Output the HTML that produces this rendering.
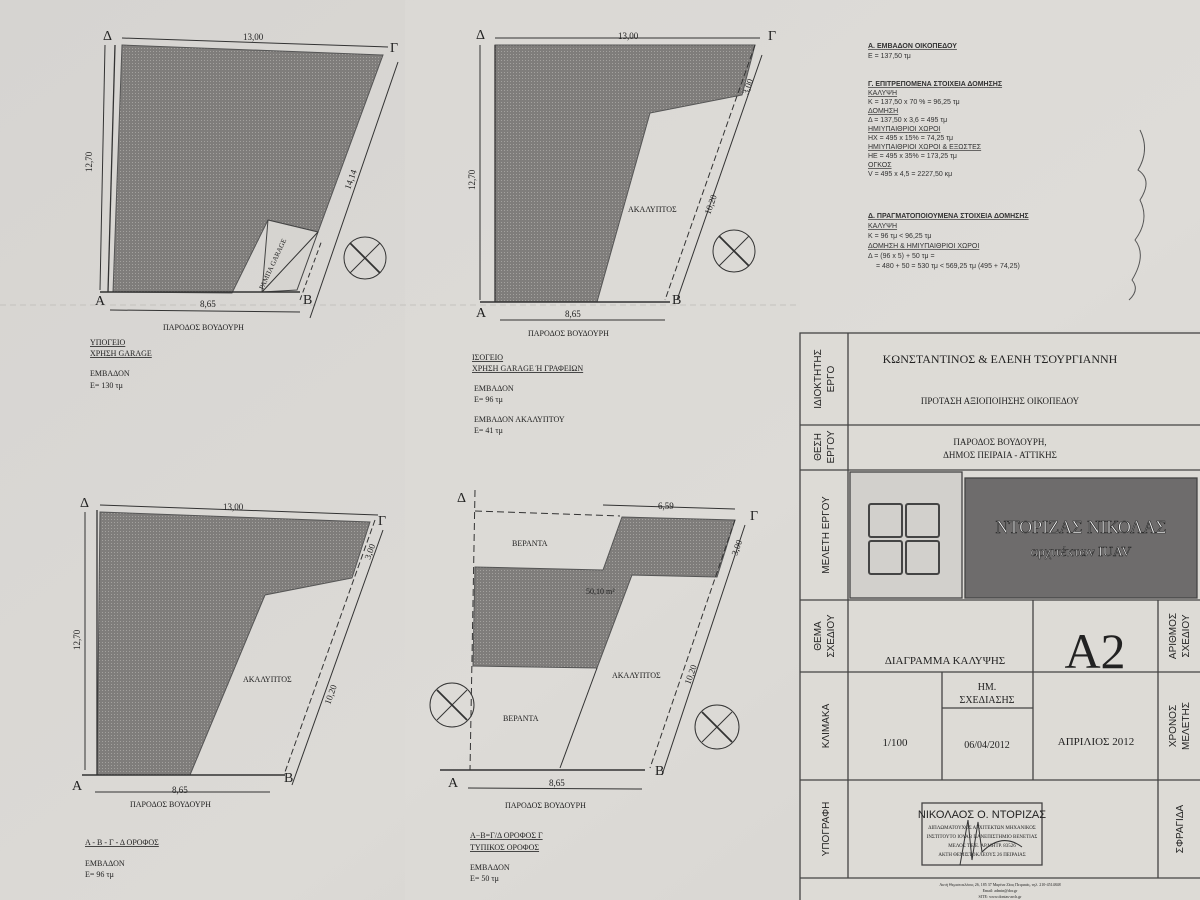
<!DOCTYPE html>
<html><head><meta charset="utf-8"><style>
body{margin:0;width:1200px;height:900px;overflow:hidden;background:#d9d7d3;font-family:"Liberation Serif","Noto Serif CJK SC",serif;}
svg{position:absolute;left:0;top:0}
</style></head><body>
<svg width="1200" height="900" viewBox="0 0 1200 900" font-family="Liberation Serif, serif">
<defs>
<pattern id="h" width="3" height="3" patternUnits="userSpaceOnUse"><rect width="3" height="3" fill="#7f7d7b"/><rect width="1" height="1" fill="#a3a19e"/></pattern>
<linearGradient id="bg" x1="0" y1="0" x2="1" y2="1"><stop offset="0" stop-color="#d6d4d1"/><stop offset="0.6" stop-color="#dcdad6"/><stop offset="1" stop-color="#d2d0cc"/></linearGradient>
</defs>
<rect width="1200" height="900" fill="url(#bg)"/>
<rect x="405" y="0" width="395" height="900" fill="#dedcd8" opacity="0.5"/>
<rect x="800" y="0" width="400" height="330" fill="#e0ded9" opacity="0.5"/>
<line x1="0" y1="305" x2="800" y2="305" stroke="#c4c2be" stroke-width="1" stroke-dasharray="6 4"/>

<g stroke="#333" fill="none" stroke-width="1">
<polygon points="122,45 383,55 318,232 268,220 232,293 113,292" fill="url(#h)" stroke="#555"/>
<polygon points="268,220 318,232 297,290 262,292" fill="#d6d4d0" stroke="#444"/>
<line x1="262" y1="292" x2="318" y2="232"/>
<line x1="100" y1="292" x2="300" y2="292" stroke-width="1.5"/>
<line x1="115" y1="45" x2="108" y2="292" stroke-width="1.3"/>
<line x1="105" y1="45" x2="100" y2="290"/>
<line x1="122" y1="38" x2="388" y2="47"/>
<line x1="110" y1="310" x2="300" y2="312"/>
<line x1="310" y1="318" x2="398" y2="62"/>
<line x1="300" y1="300" x2="322" y2="240" stroke-dasharray="5 3"/>
<circle cx="365" cy="258" r="21"/><line x1="350" y1="243" x2="380" y2="273" stroke-width="1.8"/><line x1="380" y1="243" x2="350" y2="273"/>

<polygon points="495,45 755,45 742,95 650,113 597,302 495,302" fill="url(#h)" stroke="#555"/>
<line x1="495" y1="45" x2="495" y2="302" stroke-width="1.3"/>
<line x1="480" y1="302" x2="670" y2="302" stroke-width="1.5"/>
<line x1="495" y1="38" x2="760" y2="38"/>
<line x1="755" y1="45" x2="665" y2="300" stroke-dasharray="6 3"/>
<line x1="762" y1="55" x2="677" y2="300"/>
<line x1="500" y1="320" x2="665" y2="320"/>
<line x1="480" y1="45" x2="480" y2="300"/>
<circle cx="734" cy="251" r="21"/><line x1="719" y1="236" x2="749" y2="266" stroke-width="1.8"/><line x1="749" y1="236" x2="719" y2="266"/>

<polygon points="100,512 370,522 352,578 265,595 190,775 97,775" fill="url(#h)" stroke="#555"/>
<line x1="97" y1="510" x2="97" y2="775" stroke-width="1.3"/>
<line x1="82" y1="775" x2="285" y2="775" stroke-width="1.5"/>
<line x1="100" y1="505" x2="378" y2="515"/>
<line x1="375" y1="520" x2="285" y2="772" stroke-dasharray="6 3"/>
<line x1="383" y1="530" x2="292" y2="785"/>
<line x1="85" y1="512" x2="85" y2="770"/>
<line x1="95" y1="792" x2="270" y2="792"/>
<circle cx="452" cy="705" r="22"/><line x1="437" y1="690" x2="467" y2="720" stroke-width="1.8"/><line x1="467" y1="690" x2="437" y2="720"/>

<polygon points="475,567 603,570 622,517 735,520 717,577 632,575 597,668 473,666" fill="url(#h)" stroke="#555"/>
<line x1="475" y1="490" x2="470" y2="770" stroke-dasharray="7 4"/>
<line x1="475" y1="511" x2="620" y2="516" stroke-dasharray="7 4"/>
<line x1="440" y1="770" x2="645" y2="770" stroke-width="1.5"/>
<line x1="597" y1="668" x2="560" y2="768"/>
<line x1="735" y1="520" x2="650" y2="768" stroke-dasharray="6 3"/>
<line x1="745" y1="525" x2="662" y2="775"/>
<line x1="603" y1="505" x2="735" y2="509"/>
<line x1="468" y1="788" x2="642" y2="789"/>
<circle cx="717" cy="727" r="22"/><line x1="702" y1="712" x2="732" y2="742" stroke-width="1.8"/><line x1="732" y1="712" x2="702" y2="742"/>
</g>

<g fill="#222" font-size="9">
<text x="103" y="40" font-size="14">Δ</text><text x="390" y="52" font-size="14">Γ</text>
<text x="95" y="305" font-size="14">Α</text><text x="303" y="304" font-size="14">Β</text>
<text x="243" y="40">13,00</text><text x="200" y="307">8,65</text>
<text x="92" y="172" transform="rotate(-90 92 172)">12,70</text>
<text x="350" y="190" transform="rotate(-70 350 190)">14,14</text>
<text x="258" y="278" font-size="7" transform="rotate(-65 270 280)">ΡΑΜΠΑ GARAGE</text>
<text x="163" y="330" font-size="8">ΠΑΡΟΔΟΣ ΒΟΥΔΟΥΡΗ</text>
<text x="90" y="345" font-size="8" text-decoration="underline">ΥΠΟΓΕΙΟ</text>
<text x="90" y="356" font-size="8" text-decoration="underline">ΧΡΗΣΗ GARAGE</text>
<text x="90" y="376" font-size="8">ΕΜΒΑΔΟΝ</text><text x="90" y="388" font-size="8">Ε= 130 τμ</text>

<text x="476" y="39" font-size="14">Δ</text><text x="768" y="40" font-size="14">Γ</text>
<text x="476" y="317" font-size="14">Α</text><text x="672" y="304" font-size="14">Β</text>
<text x="618" y="39">13,00</text><text x="565" y="317">8,65</text>
<text x="475" y="190" transform="rotate(-90 475 190)">12,70</text>
<text x="748" y="95" transform="rotate(-70 748 95)">3,00</text>
<text x="710" y="215" transform="rotate(-70 710 215)">10,20</text>
<text x="628" y="212" font-size="8">ΑΚΑΛΥΠΤΟΣ</text>
<text x="528" y="336" font-size="8">ΠΑΡΟΔΟΣ ΒΟΥΔΟΥΡΗ</text>
<text x="472" y="360" font-size="8" text-decoration="underline">ΙΣΟΓΕΙΟ</text>
<text x="472" y="371" font-size="8" text-decoration="underline">ΧΡΗΣΗ GARAGE Ή ΓΡΑΦΕΙΩΝ</text>
<text x="474" y="391" font-size="8">ΕΜΒΑΔΟΝ</text><text x="474" y="402" font-size="8">Ε= 96 τμ</text>
<text x="474" y="422" font-size="8">ΕΜΒΑΔΟΝ ΑΚΑΛΥΠΤΟΥ</text><text x="474" y="433" font-size="8">Ε= 41 τμ</text>

<text x="80" y="507" font-size="14">Δ</text><text x="378" y="525" font-size="14">Γ</text>
<text x="72" y="790" font-size="14">Α</text><text x="284" y="782" font-size="14">Β</text>
<text x="223" y="510">13,00</text><text x="172" y="793">8,65</text>
<text x="80" y="650" transform="rotate(-90 80 650)">12,70</text>
<text x="370" y="560" transform="rotate(-70 370 560)">3,00</text>
<text x="330" y="705" transform="rotate(-70 330 705)">10,20</text>
<text x="243" y="682" font-size="8">ΑΚΑΛΥΠΤΟΣ</text>
<text x="130" y="807" font-size="8">ΠΑΡΟΔΟΣ ΒΟΥΔΟΥΡΗ</text>
<text x="85" y="845" font-size="8" text-decoration="underline">Α - Β - Γ - Δ ΟΡΟΦΟΣ</text>
<text x="85" y="866" font-size="8">ΕΜΒΑΔΟΝ</text><text x="85" y="877" font-size="8">Ε= 96 τμ</text>

<text x="457" y="502" font-size="14">Δ</text><text x="750" y="520" font-size="14">Γ</text>
<text x="448" y="787" font-size="14">Α</text><text x="655" y="775" font-size="14">Β</text>
<text x="658" y="509">6,59</text><text x="549" y="786">8,65</text>
<text x="737" y="556" transform="rotate(-70 737 556)">3,00</text>
<text x="690" y="685" transform="rotate(-70 690 685)">10,20</text>
<text x="512" y="546" font-size="8">ΒΕΡΑΝΤΑ</text>
<text x="503" y="721" font-size="8">ΒΕΡΑΝΤΑ</text>
<text x="612" y="678" font-size="8">ΑΚΑΛΥΠΤΟΣ</text>
<text x="586" y="594" font-size="8">50,10 m²</text>
<text x="505" y="808" font-size="8">ΠΑΡΟΔΟΣ ΒΟΥΔΟΥΡΗ</text>
<text x="470" y="838" font-size="8" text-decoration="underline">Α−Β=Γ/Δ ΟΡΟΦΟΣ   Γ</text>
<text x="470" y="850" font-size="8" text-decoration="underline">ΤΥΠΙΚΟΣ ΟΡΟΦΟΣ</text>
<text x="470" y="870" font-size="8">ΕΜΒΑΔΟΝ</text><text x="470" y="881" font-size="8">Ε= 50 τμ</text>
</g>

<g fill="#333" font-family="Liberation Sans, sans-serif" font-size="7">
<text x="868" y="48" text-decoration="underline" font-weight="bold">Α. ΕΜΒΑΔΟΝ ΟΙΚΟΠΕΔΟΥ</text>
<text x="868" y="58">Ε = 137,50 τμ</text>
<text x="868" y="86" text-decoration="underline" font-weight="bold">Γ. ΕΠΙΤΡΕΠΟΜΕΝΑ ΣΤΟΙΧΕΙΑ ΔΟΜΗΣΗΣ</text>
<text x="868" y="95" text-decoration="underline">ΚΑΛΥΨΗ</text>
<text x="868" y="104">Κ = 137,50 x 70 % = 96,25 τμ</text>
<text x="868" y="113" text-decoration="underline">ΔΟΜΗΣΗ</text>
<text x="868" y="122">Δ = 137,50 x 3,6 = 495 τμ</text>
<text x="868" y="131" text-decoration="underline">ΗΜΙΥΠΑΙΘΡΙΟΙ ΧΩΡΟΙ</text>
<text x="868" y="140">ΗΧ = 495 x 15% = 74,25 τμ</text>
<text x="868" y="149" text-decoration="underline">ΗΜΙΥΠΑΙΘΡΙΟΙ ΧΩΡΟΙ & ΕΞΩΣΤΕΣ</text>
<text x="868" y="158">ΗΕ = 495 x 35% = 173,25 τμ</text>
<text x="868" y="167" text-decoration="underline">ΟΓΚΟΣ</text>
<text x="868" y="176">V = 495 x 4,5 = 2227,50 κμ</text>
<text x="868" y="218" text-decoration="underline" font-weight="bold">Δ. ΠΡΑΓΜΑΤΟΠΟΙΟΥΜΕΝΑ ΣΤΟΙΧΕΙΑ ΔΟΜΗΣΗΣ</text>
<text x="868" y="228" text-decoration="underline">ΚΑΛΥΨΗ</text>
<text x="868" y="238">Κ = 96 τμ &lt; 96,25 τμ</text>
<text x="868" y="248" text-decoration="underline">ΔΟΜΗΣΗ & ΗΜΙΥΠΑΙΘΡΙΟΙ ΧΩΡΟΙ</text>
<text x="868" y="258">Δ = (96 x 5) + 50 τμ =</text>
<text x="876" y="268">= 480 + 50 = 530 τμ &lt; 569,25 τμ (495 + 74,25)</text>
</g>
<path d="M1140 130 q10 20 -2 40 q15 10 2 30 q10 20 -5 40 q12 15 -3 40 q8 10 -3 20" stroke="#555" fill="none" stroke-width="1"/>

<g stroke="#444" fill="none" stroke-width="1.3">
<rect x="800" y="333" width="405" height="580" fill="#dddbd6"/>
<line x1="848" y1="333" x2="848" y2="878"/>
<line x1="800" y1="425" x2="1200" y2="425"/>
<line x1="800" y1="470" x2="1200" y2="470"/>
<line x1="800" y1="600" x2="1200" y2="600"/>
<line x1="800" y1="672" x2="1200" y2="672"/>
<line x1="800" y1="780" x2="1200" y2="780"/>
<line x1="800" y1="878" x2="1200" y2="878"/>
<line x1="1158" y1="600" x2="1158" y2="878"/>
<line x1="1033" y1="600" x2="1033" y2="780"/>
<line x1="942" y1="672" x2="942" y2="780"/>
<line x1="942" y1="708" x2="1033" y2="708"/>
<rect x="850" y="472" width="112" height="126" fill="#d2d0cc"/>
<rect x="965" y="478" width="232" height="120" fill="#6e6c6c"/>
<rect x="869" y="504" width="33" height="33" rx="2" stroke-width="2"/>
<rect x="906" y="504" width="33" height="33" rx="2" stroke-width="2"/>
<rect x="869" y="541" width="33" height="33" rx="2" stroke-width="2"/>
<rect x="906" y="541" width="33" height="33" rx="2" stroke-width="2"/>
<rect x="922" y="803" width="120" height="62"/>
</g>
<g fill="#222" text-anchor="middle">
<text x="1000" y="363" font-size="12">ΚΩΝΣΤΑΝΤΙΝΟΣ &amp; ΕΛΕΝΗ ΤΣΟΥΡΓΙΑΝΝΗ</text>
<text x="1000" y="404" font-size="9">ΠΡΟΤΑΣΗ ΑΞΙΟΠΟΙΗΣΗΣ ΟΙΚΟΠΕΔΟΥ</text>
<text x="1000" y="445" font-size="9">ΠΑΡΟΔΟΣ ΒΟΥΔΟΥΡΗ,</text>
<text x="1000" y="458" font-size="9">ΔΗΜΟΣ ΠΕΙΡΑΙΑ - ΑΤΤΙΚΗΣ</text>
<text x="1081" y="533" font-size="18" fill="#eee" stroke="#222" stroke-width="0.6">ΝΤΟΡΙΖΑΣ ΝΙΚΟΛΑΣ</text>
<text x="1081" y="556" font-size="14" fill="#eee" stroke="#222" stroke-width="0.5">αρχιτέκτων IUAV</text>
<text x="945" y="664" font-size="11">ΔΙΑΓΡΑΜΜΑ ΚΑΛΥΨΗΣ</text>
<text x="1095" y="668" font-size="50">A2</text>
<text x="895" y="746" font-size="11">1/100</text>
<text x="987" y="690" font-size="10">ΗΜ.</text>
<text x="987" y="703" font-size="10">ΣΧΕΔΙΑΣΗΣ</text>
<text x="987" y="748" font-size="10">06/04/2012</text>
<text x="1096" y="745" font-size="11">ΑΠΡΙΛΙΟΣ 2012</text>
<text x="982" y="818" font-size="11" font-family="Liberation Sans, sans-serif">ΝΙΚΟΛΑΟΣ Ο. ΝΤΟΡΙΖΑΣ</text>
<text x="982" y="829" font-size="5">ΔΙΠΛΩΜΑΤΟΥΧΟΣ ΑΡΧΙΤΕΚΤΩΝ ΜΗΧΑΝΙΚΟΣ</text>
<text x="982" y="838" font-size="5">ΙΝΣΤΙΤΟΥΤΟ ΙΟΥΑΒ ΠΑΝΕΠΙΣΤΗΜΙΟ ΒΕΝΕΤΙΑΣ</text>
<text x="982" y="847" font-size="5">ΜΕΛΟΣ Τ.Ε.Ε. ΑΡ.ΜΗΤΡ. 83526</text>
<text x="982" y="856" font-size="5">ΑΚΤΗ ΘΕΜΙΣΤΟΚΛΕΟΥΣ 26 ΠΕΙΡΑΙΑΣ</text>
<text x="1000" y="886" font-size="4">Ακτή Θεμιστοκλέους 26, 185 37 Μαρίνα Ζέας Πειραιάς, τηλ. 210-4514848</text>
<text x="1000" y="892" font-size="4">Email: admin@dor.gr</text>
<text x="1000" y="898" font-size="4">SITE: www.dontas-arch.gr</text>
</g>
<path d="M960 865 l8 -45 l4 40 l6 -38 l4 30 q20 -20 40 -5" stroke="#333" fill="none" stroke-width="1"/>
<g fill="#222" font-family="Liberation Sans, sans-serif" font-size="10" text-anchor="middle">
<text transform="translate(821 379) rotate(-90)">ΙΔΙΟΚΤΗΤΗΣ</text>
<text transform="translate(834 379) rotate(-90)">ΕΡΓΟ</text>
<text transform="translate(821 447) rotate(-90)">ΘΕΣΗ</text>
<text transform="translate(834 447) rotate(-90)">ΕΡΓΟΥ</text>
<text transform="translate(829 535) rotate(-90)">ΜΕΛΕΤΗ ΕΡΓΟΥ</text>
<text transform="translate(821 636) rotate(-90)">ΘΕΜΑ</text>
<text transform="translate(834 636) rotate(-90)">ΣΧΕΔΙΟΥ</text>
<text transform="translate(829 726) rotate(-90)">ΚΛΙΜΑΚΑ</text>
<text transform="translate(829 829) rotate(-90)">ΥΠΟΓΡΑΦΗ</text>
<text transform="translate(1176 636) rotate(-90)">ΑΡΙΘΜΟΣ</text>
<text transform="translate(1189 636) rotate(-90)">ΣΧΕΔΙΟΥ</text>
<text transform="translate(1176 726) rotate(-90)">ΧΡΟΝΟΣ</text>
<text transform="translate(1189 726) rotate(-90)">ΜΕΛΕΤΗΣ</text>
<text transform="translate(1183 829) rotate(-90)">ΣΦΡΑΓΙΔΑ</text>
</g>
</svg>
</body></html>
